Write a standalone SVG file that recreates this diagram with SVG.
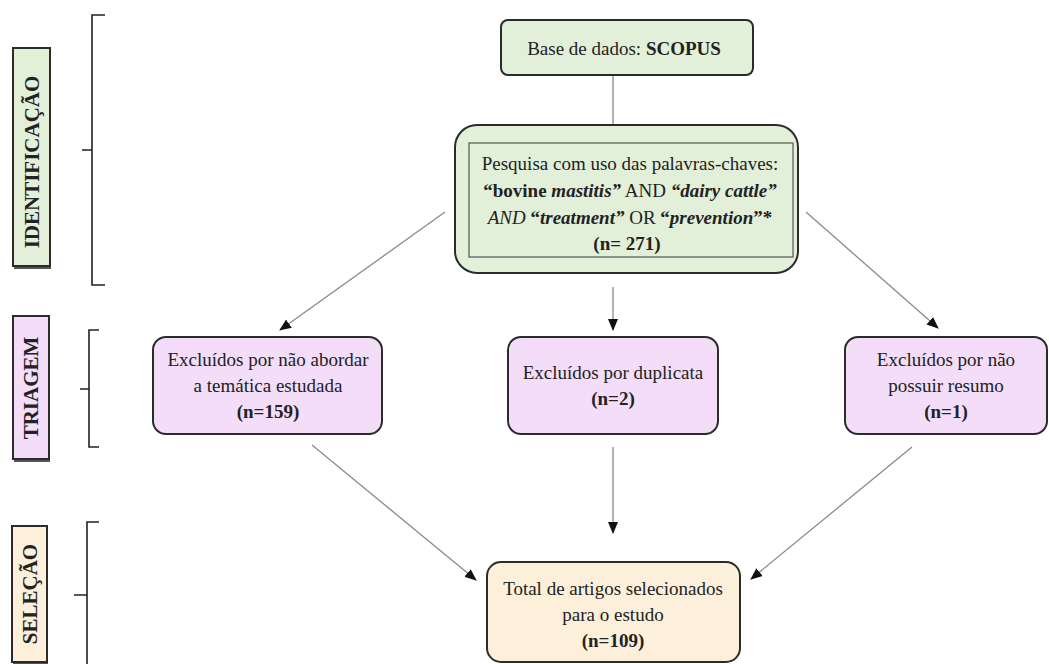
<svg xmlns="http://www.w3.org/2000/svg" width="1049" height="664" viewBox="0 0 1049 664" font-family="'Liberation Serif', 'DejaVu Serif', serif">
<style>
text{font-family:'Liberation Serif','DejaVu Serif',serif;fill:#222;font-size:19px;text-anchor:middle}
.b{font-weight:bold}
.i{font-style:italic}
.lab{font-weight:bold;font-size:21px}
.box{stroke:#2b2b2b;stroke-width:2}
.g{fill:#e2efd9}.p{fill:#f3ddf9}.t{fill:#fdf0da}
.br{fill:none;stroke:#222;stroke-width:1.6}
.c{stroke:#8a8a8a;stroke-width:1.3;fill:none}
</style>
<defs>
<marker id="ah" markerWidth="12" markerHeight="12" refX="11" refY="5.5" orient="auto" markerUnits="userSpaceOnUse">
<path d="M0,0.5 L12,5.5 L0,10.5 z" fill="#111"/>
</marker>
</defs>
<g id="stage-identificacao">
<rect x="14" y="50" width="37" height="219" fill="#555"/>
<rect x="13" y="48" width="37" height="218" class="box g"/>
<text class="lab" transform="translate(39,162) rotate(-90)">IDENTIFICAÇÃO</text>
<path class="br" d="M105,15 H92 V285 H105 M92,150 H82"/>
</g>
<g id="stage-triagem">
<rect x="14" y="318" width="36" height="144" fill="#555"/>
<rect x="13" y="316" width="36" height="143" class="box p"/>
<text class="lab" transform="translate(38,388) rotate(-90)">TRIAGEM</text>
<path class="br" d="M99,330 H89 V447 H99 M89,389 H80"/>
</g>
<g id="stage-selecao">
<rect x="13" y="528" width="35" height="136" fill="#555"/>
<rect x="12" y="526" width="35" height="136" class="box t"/>
<text class="lab" transform="translate(37,594) rotate(-90)">SELEÇÃO</text>
<path class="br" d="M99,522 H87 V664 M87,595 H74"/>
</g>
<g id="connectors">
<line class="c" x1="613" y1="75" x2="613" y2="125"/>
<line class="c" x1="445" y1="212" x2="280" y2="330" marker-end="url(#ah)"/>
<line class="c" x1="613" y1="287" x2="613" y2="330" marker-end="url(#ah)"/>
<line class="c" x1="806" y1="212" x2="938" y2="328" marker-end="url(#ah)"/>
<line class="c" x1="312" y1="445" x2="476" y2="580" marker-end="url(#ah)"/>
<line class="c" x1="613" y1="447" x2="613" y2="533" marker-end="url(#ah)"/>
<line class="c" x1="912" y1="447" x2="751" y2="579" marker-end="url(#ah)"/>
</g>
<g id="node-base">
<rect x="501" y="20" width="252" height="55" rx="7" class="box g"/>
<text x="624" y="55">Base de dados: <tspan class="b">SCOPUS</tspan></text>
</g>
<g id="node-pesquisa">
<rect x="455" y="125" width="343" height="148" rx="22" class="box g"/>
<rect x="469" y="143" width="324" height="114" fill="none" stroke="#555" stroke-width="1.2"/>
<text x="630" y="170">Pesquisa com uso das palavras-chaves:</text>
<text x="630" y="197"><tspan class="b">“bovine </tspan><tspan class="b i">mastitis”</tspan> AND <tspan class="b i">“dairy cattle”</tspan></text>
<text x="630" y="224"><tspan class="i">AND</tspan> <tspan class="b">“</tspan><tspan class="b i">treatment”</tspan> OR <tspan class="b">“</tspan><tspan class="b i">prevention</tspan><tspan class="b">”*</tspan></text>
<text x="627" y="250" class="b">(n= 271)</text>
</g>
<g id="node-excl-tematica">
<rect x="153" y="337" width="229" height="97" rx="13" class="box p"/>
<text x="268" y="366">Excluídos por não abordar</text>
<text x="268" y="392">a temática estudada</text>
<text x="268" y="418" class="b">(n=159)</text>
</g>
<g id="node-excl-duplicata">
<rect x="508" y="337" width="210" height="97" rx="13" class="box p"/>
<text x="613" y="379">Excluídos por duplicata</text>
<text x="613" y="405" class="b">(n=2)</text>
</g>
<g id="node-excl-resumo">
<rect x="845" y="337" width="202" height="97" rx="13" class="box p"/>
<text x="946" y="366">Excluídos por não</text>
<text x="946" y="392">possuir resumo</text>
<text x="946" y="418" class="b">(n=1)</text>
</g>
<g id="node-total">
<rect x="487" y="562" width="253" height="100" rx="14" class="box t"/>
<text x="613" y="595">Total de artigos selecionados</text>
<text x="613" y="621">para o estudo</text>
<text x="613" y="647" class="b">(n=109)</text>
</g>
</svg>
